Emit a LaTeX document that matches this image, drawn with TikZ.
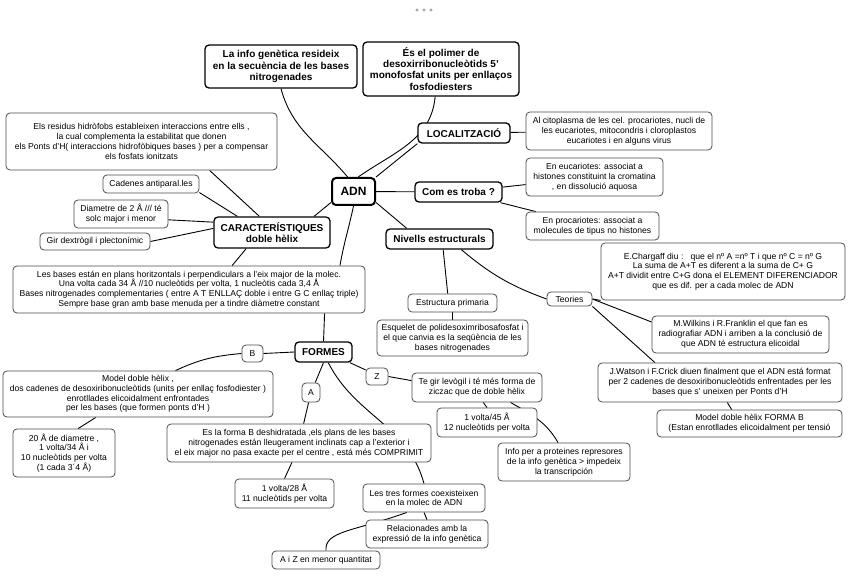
\documentclass[tikz,border=0pt]{standalone}
\usepackage{fontspec}
\setmainfont{Liberation Sans}
\usetikzlibrary{backgrounds}

\begin{document}
\begin{tikzpicture}[
            x = 1pt, y = 1pt, % one unit per pixel of the map
            every node/.style = {fill=white, rounded corners=4pt, align=center, inner sep=1pt},
            boxsize/.style 2 args = {minimum width=#1pt, minimum height=#2pt},
            root/.style = {draw, line width=2pt, font=\bfseries\fontsize{12}{14}\selectfont},
            topic/.style = {draw, line width=1.3pt, font=\bfseries\fontsize{10}{11.2}\selectfont},
            note/.style = {draw=black!70, line width=0.8pt, font=\fontsize{8.6}{9.8}\selectfont},
            link/.style = {line width=0.9pt} % connector line
        ]

	\useasboundingbox (0,0) rectangle (848,-585);
	\foreach \x in {417,424,431} \fill[black!35] (\x,-10) circle (1.7);

	\node[root,boxsize={43}{27}] (ADN) at (353.5,-191.5) {ADN};
	\node[topic,boxsize={152}{43}] (INFO) at (281,-66.5) {La info genètica resideix\\en la secuència de les bases\\nitrogenades};
	\node[topic,boxsize={156}{54}] (POL) at (441,-69) {És el polimer de\\desoxirribonucleòtids 5'\\monofosfat units per enllaços\\fosfodiesters};
	\node[topic,boxsize={92}{20}] (LOC) at (464,-133) {LOCALITZACIÓ};
	\node[note,boxsize={186}{38}] (CIT) at (619,-131) {Al citoplasma de les cel. procariotes, nucli de\\les eucariotes, mitocondris i cloroplastos\\eucariotes i en alguns virus};
	\node[topic,boxsize={87}{20}] (TROBA) at (458.5,-192) {Com es troba ?};
	\node[note,boxsize={137}{38}] (EUC) at (594.5,-177) {En eucariotes: associat a\\histones constituint la cromatina\\, en dissolució aquosa};
	\node[note,boxsize={133}{28}] (PROC) at (592.5,-226) {En procariotes: associat a\\molecules de tipus no histones};
	\node[topic,boxsize={107}{20}] (NIV) at (439.5,-239) {Nivells estructurals};
	\node[note,boxsize={89}{18}] (PRIM) at (452.5,-303) {Estructura primaria};
	\node[note,boxsize={151}{36}] (ESQ) at (452.5,-338) {Esquelet de polidesoximribosafosfat i\\el que canvia es la seqüència de les\\bases nitrogenades};
	\node[note,boxsize={45}{14}] (TEO) at (569.5,-299) {Teories};
	\node[note,boxsize={244}{57}] (CHAR) at (723,-271.5) {E.Chargaff diu :\ \ \ que el nº A =nº T i que nº C = nº G\\La suma de A+T es diferent a la suma de C+ G\\A+T dividit entre C+G dona el ELEMENT DIFERENCIADOR\\que es dif. per a cada molec de ADN};
	\node[note,boxsize={177}{37}] (WIL) at (740.5,-334.5) {M.Wilkins i R.Franklin el que fan es\\radiografiar ADN i arriben a la conclusió de\\que ADN té estructura elicoidal};
	\node[note,boxsize={244}{39}] (WAT) at (720,-382.5) {J.Watson i F.Crick diuen finalment que el ADN está format\\per 2 cadenes de desoxiribonucleòtids enfrentades per les\\bases que s' uneixen per Ponts d'H};
	\node[note,boxsize={185}{27}] (FMB) at (749.5,-423.5) {Model doble hèlix FORMA B\\(Estan enrotllades elicoidalment per tensió};
	\node[note,boxsize={271}{57}] (RES) at (141.5,-141.5) {Els residus hidròfobs estableixen interaccions entre ells ,\\la cual complementa la estabilitat que donen\\els Ponts d'H( interaccions hidrofòbiques bases ) per a compensar\\els fosfats ionitzats};
	\node[note,boxsize={96}{18}] (CAD) at (151,-184) {Cadenes antiparal.les};
	\node[note,boxsize={94}{28}] (DIA) at (121,-214) {Diametre de 2 Å /// té\\solc major i menor};
	\node[note,boxsize={110}{17}] (GIR) at (95,-241.5) {Gir dextrògil i plectonímic};
	\node[topic,boxsize={116}{31}] (CAR) at (272,-232.5) {CARACTERÍSTIQUES\\doble hèlix};
	\node[note,boxsize={352}{47}] (BAS) at (189,-289.5) {Les bases están en plans horitzontals i perpendiculars a l'eix major de la molec.\\Una volta cada 34 Å //10 nucleòtids per volta, 1 nucleòtis cada 3,4 Å\\Bases nitrogenades complementaries ( entre A T ENLLAÇ doble i entre G C enllaç triple)\\Sempre base gran amb base menuda per a tindre diàmetre constant};
	\node[topic,boxsize={57}{20}] (FOR) at (323.5,-352) {FORMES};
	\node[note,boxsize={21}{17}] (B) at (252.5,-353.5) {B};
	\node[note,boxsize={270}{46}] (MOD) at (138,-394) {Model doble hèlix ,\\dos cadenes de desoxiribonucleòtids (units per enllaç fosfodiester )\\enrotllades elicoidalment enfrontades\\per les bases (que formen ponts d'H )};
	\node[note,boxsize={102}{48}] (D20) at (64,-453) {20 Å de diametre ,\\1 volta/34 Å i\\10 nucleòtids per volta\\(1 cada 3´4 Å)};
	\node[note,boxsize={18}{19}] (A) at (311,-392.5) {A};
	\node[note,boxsize={22}{17}] (Z) at (377,-376.5) {Z};
	\node[note,boxsize={130}{29}] (LEV) at (477,-387.5) {Te gir levògil i té més forma de\\ziczac que de doble hèlix};
	\node[note,boxsize={100}{29}] (V45) at (487,-422.5) {1 volta/45 Å\\12 nucleòtids per volta};
	\node[note,boxsize={132}{38}] (REP) at (564,-462) {Info per a proteines represores\\de la info genètica > impedeix\\la transcripción};
	\node[note,boxsize={264}{38}] (DESH) at (299,-443) {Es la forma B deshidratada ,els plans de les bases\\nitrogenades están lleugerament inclinats cap a l'exterior i\\el eix major no pasa exacte per el centre , está més COMPRIMIT};
	\node[note,boxsize={99}{29}] (V28) at (284.5,-493.5) {1 volta/28 Å\\11 nucleòtids per volta};
	\node[note,boxsize={122}{28}] (TRES) at (424,-498) {Les tres formes coexisteixen\\en la molec de ADN};
	\node[note,boxsize={122}{28}] (REL) at (427,-534) {Relacionades amb la\\expressió de la info genètica};
	\node[note,boxsize={108}{18}] (AZ) at (326,-560) {A i Z en menor quantitat};

	\begin{pgfonlayer}{background}
	\draw[link] (ADN.112) to[out=130,in=-75] (INFO.south);
	\draw[link] (ADN.72) to[out=35,in=-95] (POL.-102);
	\draw[link] (ADN.north east) -- (LOC.south west);
	\draw[link] (LOC) -- (CIT);
	\draw[link] (ADN) -- (TROBA);
	\draw[link] (TROBA) -- (EUC);
	\draw[link] (TROBA) -- (PROC);
	\draw[link] (ADN.-26) -- (NIV.162);
	\draw[link] (NIV.-71) -- (PRIM.117);
	\draw[link] (PRIM) -- (ESQ);
	\draw[link] (NIV.-26) to[out=-40,in=160] (TEO.west);
	\draw[link] (TEO.east) -- (CHAR.south west);
	\draw[link] (TEO.east) -- (WIL.172);
	\draw[link] (TEO.south east) -- (WAT.163);
	\draw[link] (WAT.-70) -- (FMB.142);

	\draw[link] (ADN.206) -- (CAR.21);
	\draw[link] (CAR.128) -- (RES.-23);
	\draw[link] (CAR.155) -- (CAD.-10);
	\draw[link] (DIA.-7) -- (CAR.170);
	\draw[link] (GIR.east) -- (CAR.176);
	\draw[link] (CAR.212) -- (BAS.29);
	\draw[link] (ADN.south) to[out=-102,in=80] (BAS.9);
	\draw[link] (BAS.-10) -- (FOR.north);

	\draw[link] (FOR.west) -- (B.east);
	\draw[link] (B.west) to[out=185,in=25] (MOD.32);
	\draw[link] (MOD.-151) -- (D20.60);
	\draw[link] (FOR.south) -- (A.67);
	\draw[link] (A) -- (DESH);
	\draw[link] (FOR.-66) to[out=-63,in=105] (TRES.north);
	\draw[link] (FOR.-22) -- (Z.150);
	\draw[link] (Z.east) -- (LEV.174);
	\draw[link] (LEV.-67) -- (V45.north);
	\draw[link] (LEV.-24) to[out=-30,in=120] (REP.107);
	\draw[link] (DESH.-110) -- (V28.north);
	\draw[link] (TRES.south) -- (REL.north);
	\draw[link] (TRES.-140) .. controls +(-160:55) and +(95:20) .. (AZ.north);
	\end{pgfonlayer}
\end{tikzpicture}
\end{document}
